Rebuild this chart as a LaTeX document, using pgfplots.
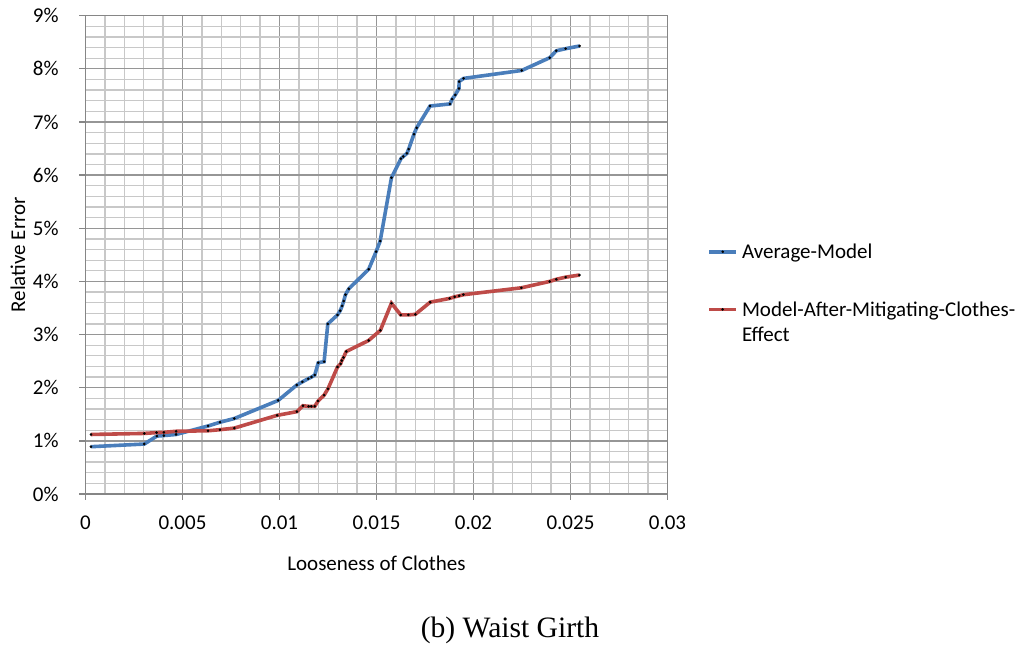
\documentclass[border=0pt]{standalone}
\usepackage{fontspec}
\setmainfont{Carlito}
\newfontfamily\capfont{Liberation Serif}
\usepackage{pgfplots}
\pgfplotsset{compat=1.18}
\definecolor{majgrid}{RGB}{150,150,150}
\definecolor{mingrid}{RGB}{200,200,200}
\definecolor{axisgray}{RGB}{134,134,134}
\definecolor{xlblue}{RGB}{74,126,187}
\definecolor{xlred}{RGB}{190,75,72}
\newcommand{\cfont}{\fontsize{10.5}{12.6}\selectfont}
\begin{document}
\begin{tikzpicture}
\useasboundingbox (0,0) rectangle (512pt,326.5pt);
\begin{axis}[
  at={(42.75pt,79.5pt)}, anchor=south west,
  width=291pt, height=239.15pt, scale only axis,
  xmin=0, xmax=0.03, ymin=0, ymax=9,
  scaled x ticks=false, scaled y ticks=false,
  xtick={0,0.005,0.01,0.015,0.02,0.025,0.03},
  xticklabels={0,0.005,0.01,0.015,0.02,0.025,0.03},
  ytick={0,1,2,3,4,5,6,7,8,9},
  yticklabels={0\%,1\%,2\%,3\%,4\%,5\%,6\%,7\%,8\%,9\%},
  minor x tick num=4, minor y tick num=4,
  grid=both,
  major grid style={draw=majgrid, line width=0.65pt},
  minor grid style={draw=mingrid, line width=0.65pt},
  axis line style={draw=axisgray, line width=0.65pt},
  tick align=outside, tick pos=left,
  major tick length=3pt, minor tick length=0pt,
  tick style={draw=axisgray, line width=0.65pt},
  every tick label/.append style={font=\cfont},
  xticklabel style={anchor=base, inner sep=0pt, yshift=-14.8pt},
  yticklabel style={anchor=east, inner sep=0pt, xshift=-10.25pt},
  xlabel={Looseness of Clothes},
  ylabel={Relative Error},
  label style={font=\cfont},
  xlabel style={at={(axis description cs:0.5,0)}, anchor=center, yshift=-34.5pt},
  ylabel style={at={(axis description cs:-0.116,0.5)}, anchor=center},
  legend style={at={(axis description cs:1.0679,0.5235)}, anchor=north west,
    draw=none, fill=none, inner sep=0pt, row sep=20pt, column sep=2pt,
    font=\cfont, nodes={inner sep=0pt}},
  legend cell align=left,
  legend style={cells={align=left, anchor=base west}},
  legend image code/.code={\draw[mark repeat=2,mark phase=2,#1] plot coordinates {(0pt,3.4pt)(6.75pt,3.4pt)(13.5pt,3.4pt)};},
  every axis plot/.append style={line width=1.8pt, mark=*, mark size=0.55pt,
    mark options={fill=black, draw=black, line width=0.2pt}},
]
\addplot[color=xlblue] coordinates {
(0.00028,0.89) (0.00303,0.94) (0.00368,1.09) (0.00404,1.10) (0.00467,1.12)
(0.00632,1.28) (0.00693,1.35) (0.00767,1.42) (0.00993,1.76) (0.01089,2.05)
(0.01118,2.11) (0.01148,2.17) (0.01165,2.20) (0.01182,2.24) (0.01200,2.47)
(0.01230,2.49) (0.01249,3.20) (0.01299,3.37) (0.01313,3.45) (0.01323,3.54)
(0.01331,3.63) (0.01340,3.75) (0.01357,3.86) (0.01460,4.23) (0.01498,4.56)
(0.01519,4.76) (0.01577,5.95) (0.01626,6.31) (0.01638,6.35) (0.01657,6.41)
(0.01666,6.49) (0.01693,6.77) (0.01707,6.89) (0.01776,7.30) (0.01879,7.34)
(0.01890,7.43) (0.01906,7.51) (0.01925,7.63) (0.01926,7.76) (0.01949,7.82)
(0.02249,7.97) (0.02393,8.21) (0.02427,8.34) (0.02475,8.38) (0.02547,8.43)
};
\addlegendentry{Average-Model}
\addplot[color=xlred, legend image post style={yshift=12.6pt}] coordinates {
(0.00028,1.12) (0.00303,1.14) (0.00366,1.155) (0.00404,1.16) (0.00467,1.18)
(0.00632,1.19) (0.00693,1.21) (0.00767,1.24) (0.00988,1.48) (0.01090,1.55)
(0.01121,1.66) (0.01150,1.65) (0.01164,1.65) (0.01182,1.65) (0.01199,1.75)
(0.01230,1.86) (0.01250,1.98) (0.01299,2.39) (0.01315,2.45) (0.01321,2.51)
(0.01330,2.57) (0.01344,2.68) (0.01460,2.89) (0.01520,3.08) (0.01577,3.59)
(0.01625,3.37) (0.01664,3.37) (0.01700,3.38) (0.01777,3.61) (0.01877,3.68)
(0.01903,3.71) (0.01926,3.73) (0.01948,3.75) (0.02247,3.88) (0.02393,4.00)
(0.02427,4.04) (0.02475,4.08) (0.02546,4.12)
};
\addlegendentry{Model-After-Mitigating-Clothes-\\Effect}
\end{axis}
\node[font=\capfont\fontsize{14.8}{17}\selectfont] at (255pt,11.5pt) {(b) Waist Girth};
\end{tikzpicture}
\end{document}
